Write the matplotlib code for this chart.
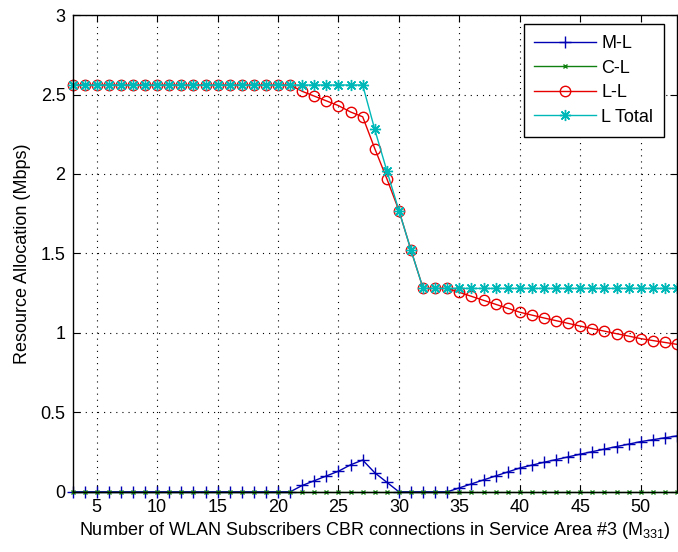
import matplotlib
matplotlib.use('Agg')
from matplotlib import pyplot as plt

plt.rcParams['font.family'] = ['Liberation Sans', 'DejaVu Sans']
plt.rcParams['mathtext.fontset'] = 'custom'
plt.rcParams['mathtext.rm'] = 'Liberation Sans'
plt.rcParams['mathtext.it'] = 'Liberation Sans:italic'

# Number of CBR connections in service area #3
m331 = list(range(3, 54))

# Resource allocation per network (Mbps)
ml = ([0.0] * 19
      + [0.04, 0.07, 0.10, 0.13, 0.17, 0.20, 0.12, 0.06]
      + [0.0] * 5
      + [0.025, 0.05, 0.075, 0.10, 0.125, 0.15, 0.168, 0.186, 0.203, 0.22,
         0.237, 0.253, 0.269, 0.285, 0.30, 0.316, 0.328, 0.34, 0.352])
cl = [0.0] * 51
ll = ([2.56] * 19
      + [2.52, 2.49, 2.46, 2.43, 2.39, 2.36, 2.16, 1.97, 1.77, 1.52]
      + [1.28] * 3
      + [1.255, 1.23, 1.205, 1.18, 1.155, 1.13, 1.112, 1.094, 1.077, 1.06,
         1.043, 1.027, 1.011, 0.995, 0.98, 0.964, 0.952, 0.94, 0.928])
l_total = [2.56] * 25 + [2.28, 2.02, 1.77, 1.52] + [1.28] * 22

series_names = ['M-L', 'C-L', 'L-L', 'L Total']

fig = plt.figure(figsize=(6.78, 5.52), dpi=100)
ax = fig.add_axes([0.107, 0.109, 0.8915, 0.8637])

# markers are left unclipped so the ones on the axes edges show whole
ax.plot(m331, ml, color='#0000b4', lw=1, marker='+', ms=8, mew=1,
        label=series_names[0], clip_on=False)
ax.plot(m331, cl, color='#108010', lw=1, marker='x', ms=3.5, mew=1,
        label=series_names[1], clip_on=False)
ax.plot(m331, ll, color='#e80000', lw=1, marker='o', ms=7.5, mew=1,
        mfc='none', label=series_names[2], clip_on=False)
ax.plot(m331, l_total, color='#00b8b8', lw=1, marker=(8, 2, 0), ms=8, mew=1,
        label=series_names[3], clip_on=False)

ax.set_xlim(3, 53)
ax.set_ylim(0, 3)
ax.set_xticks(range(5, 51, 5))
ax.set_yticks([0, 0.5, 1, 1.5, 2, 2.5, 3])
ax.set_yticklabels(['0', '0.5', '1', '1.5', '2', '2.5', '3'])

ax.grid(True, color='black', lw=0.8, ls=(0, (1, 4.5)))
ax.tick_params(direction='in', length=5, width=0.8, top=True, right=True,
               labelsize=13, pad=5)
for sp in ax.spines.values():
    sp.set_linewidth(1)
    sp.set_color('black')

ax.set_xlabel('Number of WLAN Subscribers CBR connections in Service Area #3 (M$_{331}$)',
              fontsize=13, labelpad=3)
ax.set_ylabel('Resource Allocation (Mbps)', fontsize=13, labelpad=7)

leg = ax.legend(loc='upper right', bbox_to_anchor=(0.9785, 0.981),
                borderaxespad=0, fancybox=False, edgecolor='black',
                fontsize=13, handlelength=3.4, handletextpad=0.3,
                labelspacing=0.42, borderpad=0.6)
leg.get_frame().set_linewidth(1)
leg.get_frame().set_alpha(1)

fig.savefig('out.png', dpi=100)
